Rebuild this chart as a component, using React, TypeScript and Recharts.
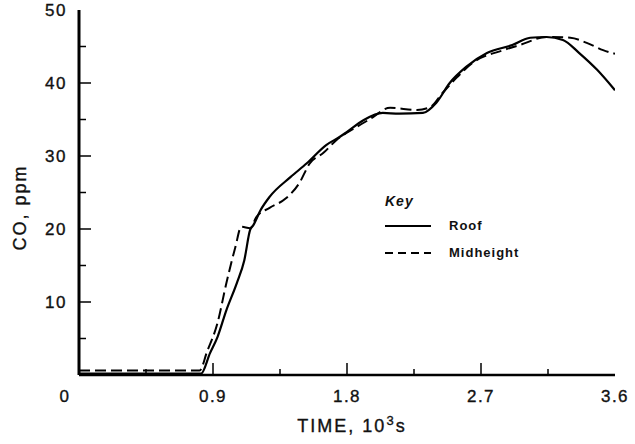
import React from 'react';
import { LineChart, Line, XAxis, YAxis, Legend, Label } from 'recharts';

const roofTime = [0, 0.82, 0.88, 0.93, 0.99, 1.06, 1.11, 1.15, 1.17, 1.22, 1.28, 1.42, 1.53, 1.66, 1.75, 1.8, 1.91, 2.04, 2.15, 2.31, 2.4, 2.49, 2.6, 2.74, 2.91, 3.03, 3.14, 3.25, 3.36, 3.48, 3.6];
const roofCO = [0.2, 0.2, 3.0, 5.2, 8.9, 12.6, 15.7, 19.9, 20.5, 22.6, 24.4, 27.1, 29.0, 31.5, 32.6, 33.3, 34.9, 35.9, 35.8, 35.9, 37.3, 40.0, 42.2, 44.1, 45.2, 46.2, 46.3, 45.9, 44.1, 41.8, 39.0];

const midTime = [0, 0.81, 0.86, 0.93, 0.99, 1.05, 1.09, 1.15, 1.19, 1.28, 1.39, 1.48, 1.55, 1.64, 1.73, 1.85, 1.95, 2.09, 2.27, 2.36, 2.44, 2.54, 2.64, 2.85, 2.96, 3.14, 3.3, 3.41, 3.52, 3.6];
const midCO = [0.6, 0.6, 3.2, 7.1, 12.6, 17.5, 20.3, 20.1, 21.6, 22.9, 24.2, 26.3, 29.0, 30.4, 32.2, 33.8, 35.0, 36.6, 36.3, 36.7, 38.6, 40.8, 42.7, 44.5, 45.2, 46.3, 46.2, 45.5, 44.5, 44.0];

const seriesNames = ['Roof', 'Midheight'];

const xMajorTicks = [0, 0.9, 1.8, 2.7, 3.6];
const xMajorLabels = ['0', '0.9', '1.8', '2.7', '3.6'];
const xAllTicks = [0, 0.45, 0.9, 1.35, 1.8, 2.25, 2.7, 3.15, 3.6];

const yMajorTicks = [10, 20, 30, 40, 50];
const yMajorLabels = ['10', '20', '30', '40', '50'];
const yAllTicks = [0, 5, 10, 15, 20, 25, 30, 35, 40, 45, 50];

const roofData = roofTime.map((t, i) => ({ t, v: roofCO[i] }));
const midData = midTime.map((t, i) => ({ t, v: midCO[i] }));

const FONT = '"Liberation Sans", Arial, sans-serif';
const TXT = { fontFamily: FONT, fill: '#111', stroke: '#111', strokeWidth: 0.35 };

const BottomTick = (props: any) => {
  const { x, y, payload } = props;
  const idx = xMajorTicks.indexOf(payload.value);
  const major = idx >= 0;
  return (
    <g>
      {payload.value !== 0 && payload.value !== 3.6 && (
        <line x1={x} x2={x} y1={y} y2={y - (major ? 12 : 6)} stroke="#000" strokeWidth={1.5} />
      )}
      {major && (
        <text x={payload.value === 0 ? x - 14 : x} y={y + 27} textAnchor="middle" fontSize={17} letterSpacing={1.5} {...TXT}>
          {xMajorLabels[idx]}
        </text>
      )}
    </g>
  );
};

const TopTick = (props: any) => {
  const { x, y, payload } = props;
  const major = xMajorTicks.indexOf(payload.value) >= 0;
  if (payload.value === 0 || payload.value === 3.6) return <g />;
  return <line x1={x} x2={x} y1={y} y2={y + (major ? 12 : 6)} stroke="#000" strokeWidth={1.5} />;
};

const LeftTick = (props: any) => {
  const { x, y, payload } = props;
  const idx = yMajorTicks.indexOf(payload.value);
  const major = idx >= 0;
  return (
    <g>
      {payload.value !== 0 && payload.value !== 50 && (
        <line x1={x} x2={x + (major ? 12 : 7)} y1={y} y2={y} stroke="#000" strokeWidth={1.5} />
      )}
      {major && (
        <text x={x - 12} y={y + 6} textAnchor="end" fontSize={17} letterSpacing={1.5} {...TXT}>
          {yMajorLabels[idx]}
        </text>
      )}
    </g>
  );
};

const RightTick = (props: any) => {
  const { x, y, payload } = props;
  const major = yMajorTicks.indexOf(payload.value) >= 0;
  if (payload.value === 0 || payload.value === 50) return <g />;
  return <line x1={x} x2={x - (major ? 10 : 7)} y1={y} y2={y} stroke="#000" strokeWidth={1.5} />;
};

const LegendContent = () => (
  <div style={{ fontFamily: FONT, color: '#111' }}>
    <div style={{ fontStyle: 'italic', fontWeight: 'bold', fontSize: 14, letterSpacing: 1, marginLeft: 2, height: 24, lineHeight: '26px' }}>Key</div>
    {seriesNames.map((name, i) => (
      <div key={name} style={{ display: 'flex', alignItems: 'center', height: 27 }}>
        <svg width={50} height={6}>
          <line x1={2} x2={48} y1={3} y2={3} stroke="#000" strokeWidth={2} strokeDasharray={i === 0 ? undefined : '8 5'} />
        </svg>
        <span style={{ marginLeft: 16, fontWeight: 'bold', fontSize: 13, letterSpacing: 1 }}>{name}</span>
      </div>
    ))}
  </div>
);

export default function App() {
  return (
    <div style={{ position: 'absolute', left: 0, top: 0, background: '#fff' }}>
      <LineChart width={635} height={444} margin={{ top: 10, right: 20, bottom: 0, left: 0 }}>
        <XAxis
          xAxisId={0}
          type="number"
          dataKey="t"
          domain={[0, 3.6]}
          ticks={xAllTicks}
          interval={0}
          tickSize={0}
          tickMargin={0}
          tickLine={false}
          tick={<BottomTick />}
          height={69}
          axisLine={{ stroke: '#000', strokeWidth: 2.5 }}
          allowDataOverflow
        >
          <Label
            content={(p: any) => {
              const vb = p.viewBox;
              return (
                <text x={vb.x + vb.width / 2 + 5} y={vb.y + 57} textAnchor="middle" fontSize={18} letterSpacing={2} {...TXT}>
                  TIME, 10
                  <tspan dy={-7} fontSize={13}>3</tspan>
                  <tspan dy={7}>s</tspan>
                </text>
              );
            }}
          />
        </XAxis>
        <XAxis
          xAxisId="top"
          orientation="top"
          type="number"
          domain={[0, 3.6]}
          ticks={xAllTicks}
          interval={0}
          tickSize={0}
          tickMargin={0}
          tickLine={false}
          tick={<TopTick />}
          height={0}
          axisLine={{ stroke: '#000', strokeWidth: 1.5 }}
          allowDataOverflow
        />
        <YAxis
          yAxisId={0}
          type="number"
          domain={[0, 50]}
          ticks={yAllTicks}
          interval={0}
          tickSize={0}
          tickMargin={0}
          tickLine={false}
          tick={<LeftTick />}
          width={79}
          axisLine={{ stroke: '#000', strokeWidth: 3 }}
          allowDataOverflow
        >
          <Label
            content={(p: any) => {
              const vb = p.viewBox;
              const cx = 20;
              const cy = vb.y + vb.height / 2 + 15;
              return (
                <text x={cx} y={cy} transform={`rotate(-90 ${cx} ${cy})`} textAnchor="middle" dominantBaseline="central" fontSize={18} letterSpacing={2} {...TXT}>
                  CO, ppm
                </text>
              );
            }}
          />
        </YAxis>
        <YAxis
          yAxisId="right"
          orientation="right"
          type="number"
          domain={[0, 50]}
          ticks={yAllTicks}
          interval={0}
          tickSize={0}
          tickMargin={0}
          tickLine={false}
          tick={<RightTick />}
          width={0}
          axisLine={{ stroke: '#000', strokeWidth: 1.5 }}
          allowDataOverflow
        />
        <Legend
          layout="horizontal"
          verticalAlign="middle"
          align="center"
          content={<LegendContent />}
          wrapperStyle={{ left: 383, top: 188, width: 'auto' }}
        />
        <Line
          data={roofData}
          dataKey="v"
          name={seriesNames[0]}
          type="monotone"
          stroke="#000"
          strokeWidth={2.2}
          dot={false}
          activeDot={false}
          isAnimationActive={false}
        />
        <Line
          data={midData}
          dataKey="v"
          name={seriesNames[1]}
          type="monotone"
          stroke="#000"
          strokeWidth={2}
          strokeDasharray="11 5"
          dot={false}
          activeDot={false}
          isAnimationActive={false}
        />
      </LineChart>
    </div>
  );
}
